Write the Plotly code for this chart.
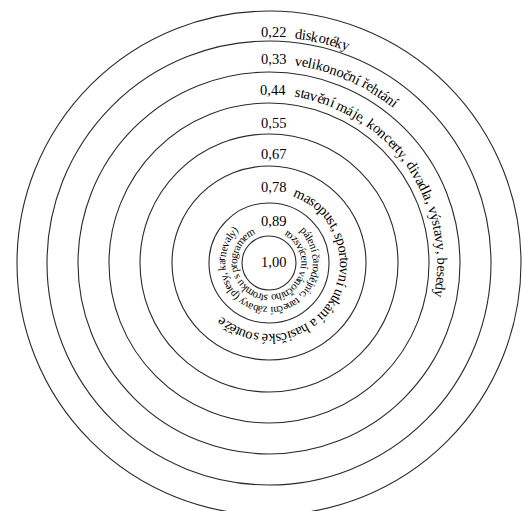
import math
import unicodedata
import plotly.graph_objects as go

# ---------------- data ----------------
ring_values = ["0,22", "0,33", "0,44", "0,55", "0,67", "0,78", "0,89", "1,00"]
ring_activities = [
    "diskotéky",
    "velikonoční řehtání",
    "stavění máje, koncerty, divadla, výstavy, besedy",
    "",
    "",
    "masopust, sportovní utkání a hasičské soutěže",
]
ring089_outer_line = "pálení čarodějnic, taneční zábavy (plesy, karnevaly)"
ring089_inner_line = "rozsvícení vánočního stromku s programem"

# ---------------- layout constants ----------------
W, H = 522, 511
CX, CY = 269, 263                     # pixel position of the common centre
circle_r = [252, 222, 191, 160, 129, 97, 60, 27]
text_r = [231, 204, 173, 140, 109, 76, 42]
FONT = "Liberation Serif"
INK = "#000000"
LINE = "#2a2a2a"
SIZE = 14.5
SMALL = 11

# Times-like advance widths (1/1000 em)
ADV = {
    'a': 444, 'b': 500, 'c': 444, 'd': 500, 'e': 444, 'f': 333, 'g': 500, 'h': 500,
    'i': 278, 'j': 278, 'k': 500, 'l': 278, 'm': 778, 'n': 500, 'o': 500, 'p': 500,
    'q': 500, 'r': 333, 's': 389, 't': 278, 'u': 500, 'v': 500, 'w': 722, 'x': 500,
    'y': 500, 'z': 444, ' ': 250, ',': 250, '.': 250, '(': 333, ')': 333,
}


def adv(ch, size):
    base = unicodedata.normalize("NFD", ch)[0]
    if base.isdigit():
        return 0.5 * size
    return ADV.get(base.lower(), 500) * size / 1000.0


def arc_text(text, r, start_deg, size):
    anns = []
    pos = 0.0
    for ch in text:
        w = adv(ch, size)
        if ch != " ":
            theta = start_deg + math.degrees((pos + w / 2) / r)
            t = math.radians(theta)
            ang = ((theta + 180) % 360) - 180
            anns.append(dict(
                x=r * math.sin(t), y=r * math.cos(t), text=ch,
                textangle=ang, showarrow=False,
                xanchor="center", yanchor="middle",
                font=dict(family=FONT, size=size, color=INK),
            ))
        pos += w
    return anns


fig = go.Figure()

shapes = []
for r in circle_r:
    shapes.append(dict(type="circle", xref="x", yref="y",
                       x0=-r, y0=-r, x1=r, y1=r,
                       line=dict(color=LINE, width=1.1)))

annotations = []
# numeric labels
for i, v in enumerate(ring_values):
    y = text_r[i] if i < len(text_r) else 1
    annotations.append(dict(x=4, y=y, text=v, showarrow=False,
                            xanchor="center", yanchor="middle",
                            font=dict(family=FONT, size=SIZE, color=INK)))

# curved activity texts
GAP_X = 26
for i, txt in enumerate(ring_activities):
    if not txt:
        continue
    r = text_r[i]
    start = math.degrees(math.asin(GAP_X / r))
    annotations += arc_text(txt, r, start, SIZE)

annotations += arc_text(ring089_outer_line, 48, 44, SMALL)
annotations += arc_text(ring089_inner_line, 36, 28, SMALL)

fig.update_layout(
    width=W, height=H,
    margin=dict(l=0, r=0, t=0, b=0),
    paper_bgcolor="white", plot_bgcolor="white",
    font=dict(family=FONT),
    xaxis=dict(range=[-CX, W - CX], visible=False, fixedrange=True),
    yaxis=dict(range=[-(H - CY), CY], visible=False, fixedrange=True),
    shapes=shapes,
    annotations=annotations,
    showlegend=False,
    hovermode=False,
)

fig.write_html(
    "out.html",
    config={"displayModeBar": False, "staticPlot": True},
    post_script="document.body.style.margin='0';document.body.style.overflow='hidden';",
)
